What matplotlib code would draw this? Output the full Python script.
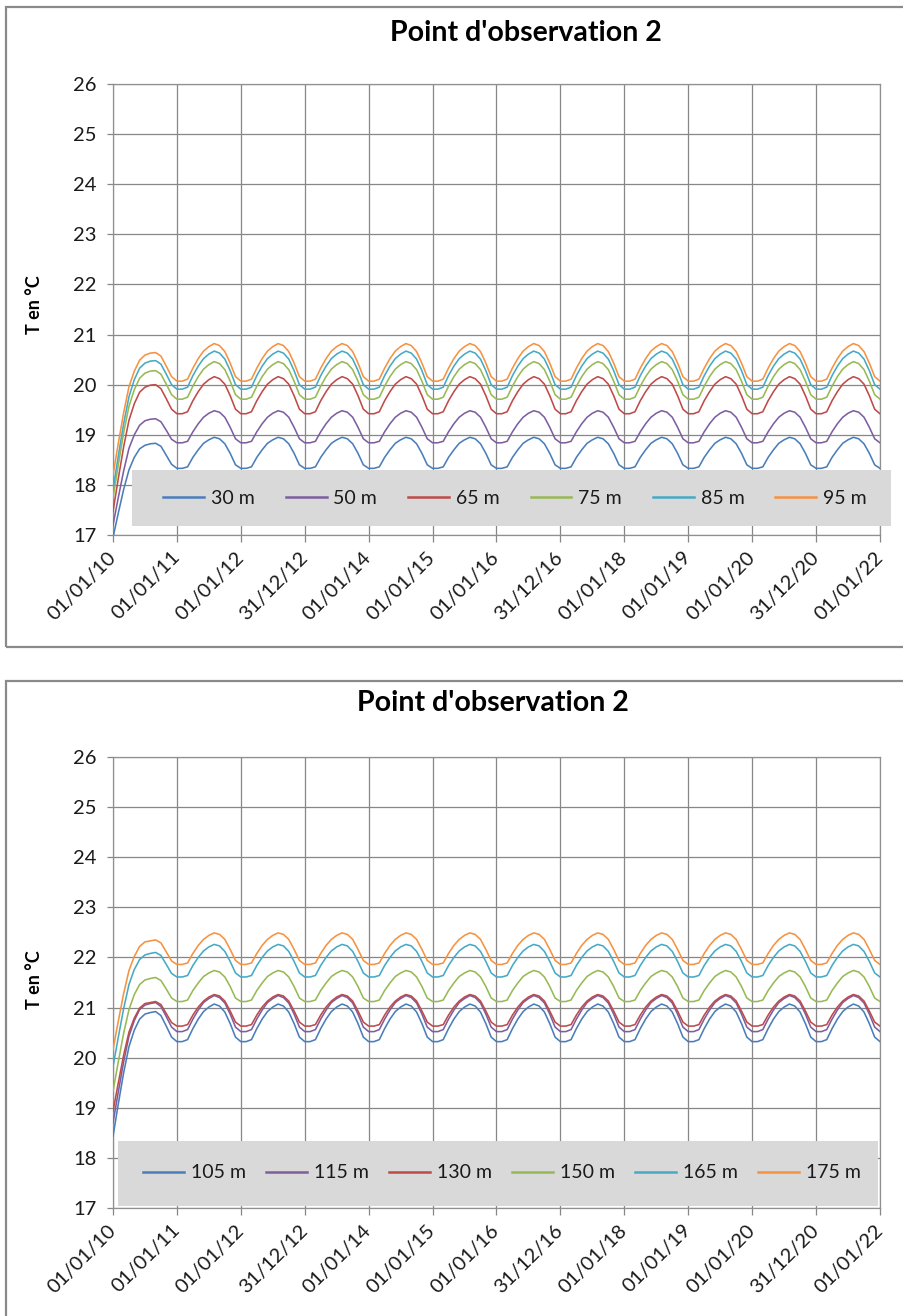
import numpy as np
import matplotlib
matplotlib.use("Agg")
import matplotlib.pyplot as plt
from matplotlib.patches import Rectangle
from matplotlib.lines import Line2D

plt.rcParams['font.family'] = ['Lato', 'DejaVu Sans']

# ---- data -----------------------------------------------------------------
x_tick_labels = ["01/01/10", "01/01/11", "01/01/12", "31/12/12", "01/01/14",
                 "01/01/15", "01/01/16", "31/12/16", "01/01/18", "01/01/19",
                 "01/01/20", "31/12/20", "01/01/22"]
n_years = 12

series_colors = ["#4A7EBB", "#7D5FA0", "#BE4B48", "#98B954", "#46AAC5", "#F69240"]

# upper chart: depths and monthly temperatures (°C)
top_depths = ["30 m", "50 m", "65 m", "75 m", "85 m", "95 m"]
# first year (2010), one value per month, warm-up from the initial state
top_first_year = [
    [16.95, 17.44, 17.91, 18.30, 18.55, 18.72, 18.79, 18.82, 18.83, 18.77, 18.59, 18.41],
    [17.20, 17.75, 18.28, 18.73, 19.00, 19.19, 19.28, 19.31, 19.32, 19.26, 19.09, 18.91],
    [17.47, 18.13, 18.76, 19.29, 19.62, 19.85, 19.95, 19.99, 20.00, 19.92, 19.72, 19.51],
    [17.74, 18.40, 19.04, 19.57, 19.90, 20.13, 20.23, 20.27, 20.28, 20.21, 20.01, 19.80],
    [17.91, 18.58, 19.22, 19.76, 20.10, 20.33, 20.43, 20.47, 20.48, 20.41, 20.21, 20.00],
    [18.20, 18.83, 19.44, 19.96, 20.27, 20.49, 20.59, 20.63, 20.64, 20.57, 20.37, 20.16],
]
# established yearly cycle (2011 onwards), one value per month
top_cycle = [
    [18.33, 18.33, 18.36, 18.55, 18.70, 18.83, 18.90, 18.95, 18.92, 18.82, 18.63, 18.40],
    [18.84, 18.84, 18.87, 19.06, 19.22, 19.35, 19.43, 19.48, 19.45, 19.35, 19.15, 18.92],
    [19.42, 19.42, 19.46, 19.68, 19.86, 20.01, 20.10, 20.16, 20.12, 20.01, 19.78, 19.51],
    [19.71, 19.71, 19.75, 19.97, 20.16, 20.31, 20.40, 20.46, 20.42, 20.30, 20.07, 19.80],
    [19.91, 19.91, 19.95, 20.18, 20.37, 20.52, 20.61, 20.67, 20.63, 20.51, 20.28, 20.00],
    [20.07, 20.07, 20.11, 20.33, 20.52, 20.67, 20.76, 20.82, 20.78, 20.66, 20.43, 20.16],
]

# lower chart
bottom_depths = ["105 m", "115 m", "130 m", "150 m", "165 m", "175 m"]
bottom_first_year = [
    [18.43, 19.08, 19.70, 20.22, 20.55, 20.77, 20.87, 20.90, 20.92, 20.84, 20.63, 20.41],
    [18.70, 19.32, 19.92, 20.43, 20.74, 20.96, 21.05, 21.08, 21.10, 21.02, 20.82, 20.61],
    [18.93, 19.50, 20.05, 20.51, 20.79, 20.99, 21.08, 21.10, 21.12, 21.06, 20.88, 20.70],
    [19.33, 19.92, 20.49, 20.96, 21.26, 21.46, 21.55, 21.58, 21.60, 21.54, 21.37, 21.19],
    [19.82, 20.41, 20.98, 21.46, 21.76, 21.96, 22.05, 22.08, 22.10, 22.04, 21.86, 21.68],
    [20.16, 20.73, 21.28, 21.74, 22.02, 22.22, 22.31, 22.33, 22.35, 22.29, 22.11, 21.93],
]
bottom_cycle = [
    [20.32, 20.32, 20.36, 20.58, 20.77, 20.92, 21.01, 21.07, 21.03, 20.91, 20.68, 20.41],
    [20.52, 20.52, 20.56, 20.77, 20.95, 21.10, 21.18, 21.24, 21.20, 21.09, 20.87, 20.61],
    [20.63, 20.63, 20.66, 20.85, 21.01, 21.13, 21.21, 21.26, 21.23, 21.13, 20.93, 20.71],
    [21.12, 21.12, 21.15, 21.34, 21.49, 21.62, 21.69, 21.74, 21.71, 21.61, 21.42, 21.19],
    [21.61, 21.61, 21.64, 21.84, 22.00, 22.13, 22.21, 22.26, 22.23, 22.12, 21.92, 21.69],
    [21.86, 21.86, 21.89, 22.08, 22.24, 22.36, 22.44, 22.49, 22.46, 22.36, 22.16, 21.94],
]

title_text = "Point d'observation 2"
y_label = "T en °C"

# ---- layout helpers (pixel based) ------------------------------------------
W, H = 904, 1316
fig = plt.figure(figsize=(W / 100, H / 100), dpi=100)


def fx(px):
    return px / W


def fy(py):
    return 1 - py / H


def build_series(first, cycle):
    """Concatenate the warm-up year with the repeated yearly cycle."""
    months = len(first)
    x = list(np.arange(months) / months)
    y = list(first)
    for k in range(1, n_years):
        x += list(k + np.arange(months) / months)
        y += list(cycle)
    x.append(float(n_years))
    y.append(cycle[0])
    return np.array(x), np.array(y)


def draw_chart(frame_top, frame_bottom, ax_top, title_x, title_y, ylab_y,
               depths, first, cycle, leg_box, leg_center, col_space):
    # chart frame
    fig.patches.append(Rectangle((fx(6), fy(frame_bottom)), fx(1100),
                                 (frame_bottom - frame_top) / H,
                                 transform=fig.transFigure, fill=False,
                                 edgecolor="#8a8a8a", lw=1.6, zorder=0))
    ax = fig.add_axes([fx(113), fy(ax_top + 451), fx(767), 451 / H])
    for i, name in enumerate(depths):
        x, y = build_series(first[i], cycle[i])
        ax.plot(x, y, color=series_colors[i], lw=1.15, label=name, zorder=3)
    ax.set_xlim(0, n_years)
    ax.set_ylim(17, 26)
    ax.set_yticks(np.arange(17, 27, 1))
    ax.set_xticks(np.arange(0, n_years + 1))
    ax.set_xticklabels(x_tick_labels, rotation=45, ha="right", va="center",
                       rotation_mode="anchor")
    ax.grid(True, color="#878787", lw=0.9, zorder=1)
    ax.set_axisbelow(True)
    for side in ["top", "right", "left", "bottom"]:
        ax.spines[side].set_color("#909090")
        ax.spines[side].set_linewidth(0.9)
    ax.tick_params(axis="x", length=5, width=0.9, color="#878787",
                   labelsize=14.5, pad=9, labelcolor="#1a1a1a")
    ax.tick_params(axis="y", length=4, width=0.9, color="#878787",
                   labelsize=14.5, pad=8, labelcolor="#1a1a1a")

    fig.text(fx(title_x), fy(title_y), title_text, ha="center", va="center",
             fontsize=20.5, fontweight="bold", color="#000000")
    fig.text(fx(34), fy(ylab_y), y_label, ha="center", va="center",
             rotation=90, fontsize=13, fontweight="bold", color="#000000")

    # legend panel
    lx0, ly0, lx1, ly1 = leg_box
    ax.add_patch(Rectangle((fx(lx0), fy(ly1)), (lx1 - lx0) / W, (ly1 - ly0) / H,
                           transform=fig.transFigure, facecolor="#d9d9d9",
                           edgecolor="none", zorder=5, clip_on=False))
    handles = [Line2D([], [], color=c, lw=1.8) for c in series_colors]
    leg = ax.legend(handles, depths, loc="center", ncol=6, frameon=False,
                    bbox_to_anchor=(fx(leg_center[0]), fy(leg_center[1])),
                    bbox_transform=fig.transFigure, fontsize=14,
                    handlelength=2.1, handletextpad=0.35,
                    columnspacing=col_space, borderpad=0, borderaxespad=0)
    leg.set_zorder(6)
    for t in leg.get_texts():
        t.set_color("#1a1a1a")
    return ax


draw_chart(7, 647, 84, 526, 33, 305, top_depths, top_first_year, top_cycle,
           (132, 470, 891, 526), (515, 498), 1.6)
draw_chart(681, 1400, 757, 493, 703, 980, bottom_depths, bottom_first_year,
           bottom_cycle, (118, 1141, 878, 1206), (502, 1173), 1.05)

fig.savefig("out.png", dpi=100)
